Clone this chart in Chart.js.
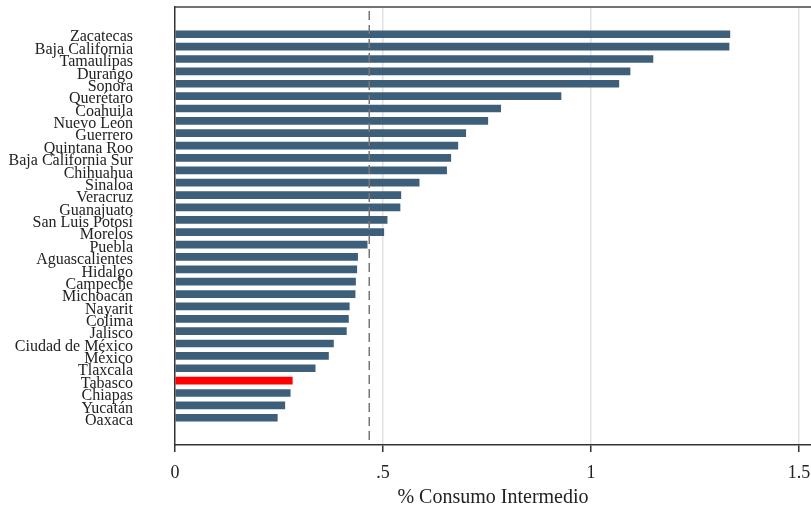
<!DOCTYPE html>
<html>
<head>
<meta charset="utf-8">
<script src="https://cdn.jsdelivr.net/npm/chart.js@4/dist/chart.umd.min.js"></script>
<style>
  html, body { margin: 0; padding: 0; background: #fff; }
</style>
</head>
<body>
<canvas id="grafico" width="811" height="506"></canvas>
<script>
// Datos
const estados = [
    "Zacatecas", "Baja California", "Tamaulipas", "Durango", "Sonora",
    "Querétaro", "Coahuila", "Nuevo León", "Guerrero", "Quintana Roo",
    "Baja California Sur", "Chihuahua", "Sinaloa", "Veracruz", "Guanajuato",
    "San Luis Potosí", "Morelos", "Puebla", "Aguascalientes", "Hidalgo",
    "Campeche", "Michoacán", "Nayarit", "Colima", "Jalisco",
    "Ciudad de México", "México", "Tlaxcala", "Tabasco", "Chiapas",
    "Yucatán", "Oaxaca"
];
const valores = [
    1.334, 1.332, 1.149, 1.094, 1.067,
    0.928, 0.783, 0.752, 0.699, 0.680,
    0.663, 0.653, 0.587, 0.543, 0.541,
    0.510, 0.502, 0.462, 0.439, 0.437,
    0.434, 0.433, 0.419, 0.417, 0.412,
    0.381, 0.369, 0.337, 0.282, 0.277,
    0.264, 0.246
];
const promedio = 0.467;
const ticksX = [0, 0.5, 1, 1.5];
const etiquetasX = ["0", ".5", "1", "1.5"];
const destacado = "Tabasco";

const azul = "#3e5f79";
const rojo = "#ff0000";
const fuente = "'Liberation Serif', 'DejaVu Serif', serif";

// linea vertical del promedio y borde superior
const marco = {
    id: "marco",
    afterDatasetsDraw(chart) {
        const ctx = chart.ctx;
        const area = chart.chartArea;
        const x = chart.scales.x.getPixelForValue(promedio);
        ctx.save();
        ctx.strokeStyle = "#777";
        ctx.lineWidth = 1.5;
        ctx.setLineDash([9, 5]);
        ctx.beginPath();
        ctx.moveTo(x, area.top + 4);
        ctx.lineTo(x, area.bottom);
        ctx.stroke();
        ctx.setLineDash([]);
        ctx.strokeStyle = "#444";
        ctx.lineWidth = 1.5;
        ctx.beginPath();
        ctx.moveTo(area.left, area.top);
        ctx.lineTo(chart.width, area.top);
        ctx.stroke();
        ctx.restore();
    }
};

const ctx = document.getElementById("grafico").getContext("2d");

new Chart(ctx, {
    type: "bar",
    data: {
        datasets: [{
            data: valores.map((v, i) => ({ x: v, y: i })),
            backgroundColor: estados.map(e => e === destacado ? rojo : azul),
            barThickness: 7,
            borderWidth: 0
        }]
    },
    options: {
        indexAxis: "y",
        responsive: false,
        devicePixelRatio: 1,
        animation: false,
        layout: { padding: { top: 7, right: 0, bottom: 0, left: 0 } },
        plugins: {
            legend: { display: false },
            tooltip: { enabled: false }
        },
        scales: {
            x: {
                type: "linear",
                min: 0,
                max: 1.529,
                afterFit: s => {
                    s.height = 61;
                    s.paddingLeft = 0;
                    s.paddingRight = 0;
                },
                afterBuildTicks: s => { s.ticks = ticksX.map(v => ({ value: v })); },
                ticks: {
                    includeBounds: false,
                    padding: 10,
                    color: "#222",
                    font: { family: fuente, size: 18 },
                    callback: v => etiquetasX[ticksX.indexOf(v)]
                },
                grid: {
                    color: c => c.tick && c.tick.value === 0 ? "rgba(0,0,0,0)" : "#e2e2e2",
                    lineWidth: 1.5,
                    tickColor: "#333",
                    tickLength: 7,
                    tickWidth: 1.5
                },
                border: { color: "#333", width: 1.5 },
                title: {
                    display: true,
                    text: "% Consumo Intermedio",
                    color: "#222",
                    font: { family: fuente, size: 20 },
                    padding: { top: 0, bottom: -4 }
                }
            },
            y: {
                type: "linear",
                reverse: true,
                offset: false,
                min: -2.2,
                max: 33.2,
                afterFit: s => {
                    s.width = 175;
                    s.paddingTop = 0;
                    s.paddingBottom = 0;
                },
                afterBuildTicks: s => { s.ticks = estados.map((e, i) => ({ value: i })); },
                ticks: {
                    autoSkip: false,
                    padding: 42,
                    labelOffset: 3,
                    color: "#222",
                    font: { family: fuente, size: 16 },
                    callback: v => estados[v]
                },
                grid: { display: false, drawTicks: false },
                border: { color: "#333", width: 1.5 }
            }
        }
    },
    plugins: [marco]
});
</script>
</body>
</html>
